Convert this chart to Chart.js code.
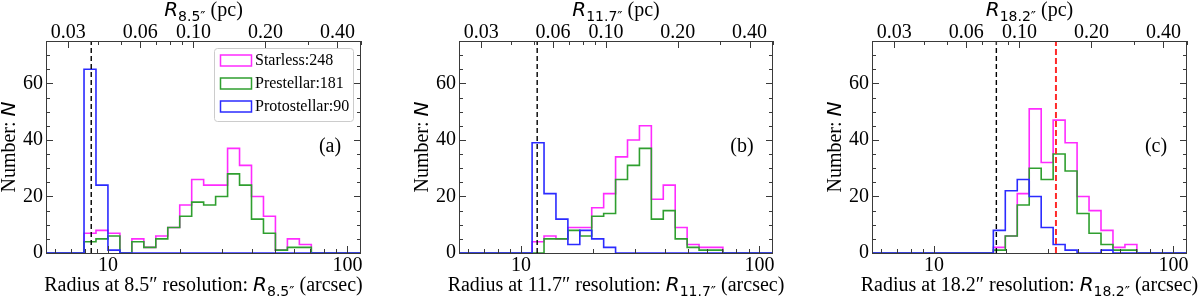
<!DOCTYPE html>
<html>
<head>
<meta charset="utf-8">
<script src="https://cdn.jsdelivr.net/npm/chart.js@4.4.0/dist/chart.umd.min.js"></script>
<style>
  html, body { margin: 0; padding: 0; background: #fff; }
  #wrap { position: relative; width: 1200px; height: 299px; overflow: hidden; }
  #wrap canvas { position: absolute; top: 0; }
</style>
</head>
<body>
<div id="wrap">
  <canvas id="pa" width="400" height="299" style="left:0"></canvas>
  <canvas id="pb" width="400" height="299" style="left:400px"></canvas>
  <canvas id="pc" width="400" height="299" style="left:800px"></canvas>
</div>
<script>
// ---- data ----
const SERIES = ['Starless', 'Prestellar', 'Protostellar'];
const SERIES_TOTALS = [248, 181, 90];

const RESOLUTIONS = ['8.5', '11.7', '18.2'];
const PANEL_TAGS = ['(a)', '(b)', '(c)'];
const RES_LINE = [8.5, 11.7, 18.2];     // black dashed line (arcsec)
const RED_LINE = [null, null, 32.3];    // red dashed line, panel (c) only

// first bin edge of each panel (arcsec); bins are 0.05 dex wide
const FIRST_EDGE = [7.93, 11.14, 17.68];
const BIN_DEX = 0.05;

const STARLESS_A = [7, 8, 7, 0, 5, 2, 6, 9, 17, 26, 24, 24, 37, 31, 20, 13, 1, 5, 3];
const PRESTELLAR_A = [4, 5, 6, 0, 4, 2, 5, 9, 13, 18, 17, 20, 28, 24, 12, 7, 1, 2, 2];
const PROTO_A = [65, 24, 1];

const STARLESS_B = [4, 6, 5, 9, 9, 16, 21, 34, 40, 45, 19, 24, 9, 3, 2, 2];
const PRESTELLAR_B = [0, 5, 5, 8, 6, 13, 14, 26, 31, 37, 12, 15, 5, 2, 1, 1];
const PROTO_B = [39, 21, 12, 3, 8, 5, 2];

const STARLESS_C = [2, 6, 21, 51, 32, 47, 39, 20, 15, 8, 2, 3];
const PRESTELLAR_C = [1, 6, 17, 30, 26, 35, 29, 14, 7, 3, 1, 1];
const PROTO_C = [8, 22, 26, 20, 9, 3, 1, 0, 0, 1];

// axes
const X_MIN = 5.5, X_MAX = 114;
const Y_MAX = 75;
const PC_PER_ARCSEC = 0.0044;
const Y_TICKS = [0, 20, 40, 60];
const Y_MINOR = [5, 10, 15, 25, 30, 35, 45, 50, 55, 65, 70];
const X_TICKS = [10, 100];
const X_MINOR = [6, 7, 8, 9, 20, 30, 40, 50, 60, 70, 80, 90];
const PC_TICKS = [0.03, 0.06, 0.10, 0.20, 0.40];
const PC_MINOR = [0.04, 0.05, 0.07, 0.08, 0.09, 0.3, 0.5];

// ---- styling / layout ----
const COLORS = ['#ff2bff', '#2f9f2f', '#2b2bff'];
const SERIF = '"Liberation Serif", "Times New Roman", serif';
const SANS = '"DejaVu Sans", sans-serif';
const FRAME = '#3a3a3a';
const PLOT_TOP = 41, PLOT_BOTTOM = 253;
const LAYOUT = [
  { id: 'pa', plotLeft: 46, plotRight: 361 },
  { id: 'pb', plotLeft: 59, plotRight: 373 },
  { id: 'pc', plotLeft: 72, plotRight: 387 }
];

function stepData(counts, first) {
  const pts = [{ x: X_MIN, y: 0 }, { x: first, y: 0 }];
  counts.forEach(function (c, k) {
    pts.push({ x: first * Math.pow(10, BIN_DEX * k), y: c });
  });
  const end = first * Math.pow(10, BIN_DEX * counts.length);
  pts.push({ x: end, y: counts[counts.length - 1] });
  pts.push({ x: end, y: 0 });
  pts.push({ x: X_MAX, y: 0 });
  return pts;
}

function richText(ctx, parts, x, y) {
  let w = 0;
  parts.forEach(function (p) { ctx.font = p.font; p.w = ctx.measureText(p.t).width; w += p.w; });
  let cx = x - w / 2;
  parts.forEach(function (p) {
    ctx.font = p.font;
    ctx.fillText(p.t, cx, y + (p.dy || 0));
    cx += p.w;
  });
}

const framePlugin = {
  id: 'frame',
  afterDatasetsDraw: function (chart, args, opts) {
    const ctx = chart.ctx;
    const a = chart.chartArea;
    const sx = chart.scales.x, sx2 = chart.scales.x2, sy = chart.scales.y;
    const res = opts.res;
    ctx.save();
    ctx.strokeStyle = FRAME;
    ctx.lineWidth = 1;

    function vt(px, len) {
      const x = Math.round(px) + 0.5;
      ctx.beginPath();
      ctx.moveTo(x, a.bottom); ctx.lineTo(x, a.bottom - len);
      ctx.stroke();
    }
    function vtTop(px, len) {
      const x = Math.round(px) + 0.5;
      ctx.beginPath();
      ctx.moveTo(x, a.top); ctx.lineTo(x, a.top + len);
      ctx.stroke();
    }
    function ht(py, len) {
      const y = Math.round(py) + 0.5;
      ctx.beginPath();
      ctx.moveTo(a.left, y); ctx.lineTo(a.left + len, y);
      ctx.moveTo(a.right, y); ctx.lineTo(a.right - len, y);
      ctx.stroke();
    }
    X_TICKS.forEach(function (v) { vt(sx.getPixelForValue(v), 7); });
    X_MINOR.forEach(function (v) { vt(sx.getPixelForValue(v), 4); });
    PC_TICKS.forEach(function (v) { vtTop(sx2.getPixelForValue(v), 7); });
    PC_MINOR.forEach(function (v) { vtTop(sx2.getPixelForValue(v), 4); });
    Y_TICKS.forEach(function (v) { ht(sy.getPixelForValue(v), 7); });
    Y_MINOR.forEach(function (v) { ht(sy.getPixelForValue(v), 4); });

    ctx.strokeRect(a.left + 0.5, a.top + 0.5, a.right - a.left - 1, a.bottom - a.top);

    // texts
    ctx.fillStyle = '#000';
    ctx.textBaseline = 'alphabetic';
    const cx = (a.left + a.right) / 2;
    richText(ctx, [
      { t: 'R', font: 'italic 20px ' + SANS },
      { t: res + '″', font: '14px ' + SANS, dy: 5 },
      { t: ' (pc)', font: '20px ' + SERIF }
    ], cx, 16);
    richText(ctx, [
      { t: 'Radius at ' + res + '″ resolution: ', font: '20px ' + SERIF },
      { t: 'R', font: 'italic 20px ' + SANS },
      { t: res + '″', font: '14px ' + SANS, dy: 5 },
      { t: ' (arcsec)', font: '20px ' + SERIF }
    ], cx, 291);

    ctx.save();
    ctx.translate(a.left - 31, (a.top + a.bottom) / 2);
    ctx.rotate(-Math.PI / 2);
    richText(ctx, [
      { t: 'Number: ', font: '20px ' + SERIF },
      { t: 'N', font: 'italic 20px ' + SANS }
    ], 0, 0);
    ctx.restore();

    ctx.font = '20px ' + SERIF;
    ctx.textAlign = 'center';
    ctx.textBaseline = 'middle';
    ctx.fillText(opts.tag, a.right - 31, 147);

    if (opts.legend) {
      const bx = a.right - 147, by = a.top + 7, bw = 139, bh = 73;
      ctx.fillStyle = 'rgba(255,255,255,0.85)';
      ctx.strokeStyle = '#cccccc';
      ctx.beginPath();
      ctx.roundRect(bx + 0.5, by + 0.5, bw, bh, 3);
      ctx.fill(); ctx.stroke();
      ctx.font = '16px ' + SERIF;
      ctx.textAlign = 'left';
      SERIES.forEach(function (name, i) {
        const ry = by + 12 + i * 23;
        ctx.strokeStyle = COLORS[i];
        ctx.lineWidth = 1.5;
        ctx.strokeRect(bx + 6.5, ry - 5, 31, 11);
        ctx.fillStyle = '#000';
        ctx.fillText(name + ':' + SERIES_TOTALS[i], bx + 41, ry + 1);
      });
    }
    ctx.restore();
  }
};

const HIST = [
  [STARLESS_A, PRESTELLAR_A, PROTO_A],
  [STARLESS_B, PRESTELLAR_B, PROTO_B],
  [STARLESS_C, PRESTELLAR_C, PROTO_C]
];

LAYOUT.forEach(function (L, p) {
  const canvas = document.getElementById(L.id);
  const datasets = [];
  HIST[p].forEach(function (counts, i) {
    datasets.push({
      label: SERIES[i],
      data: stepData(counts, FIRST_EDGE[p]),
      borderColor: COLORS[i],
      borderWidth: 1.6,
      stepped: true,
      pointRadius: 0,
      fill: false,
      order: 2 - i + 1
    });
  });
  datasets.push({
    label: 'res',
    data: [{ x: RES_LINE[p], y: 0 }, { x: RES_LINE[p], y: Y_MAX }],
    borderColor: '#000',
    borderWidth: 1.4,
    borderDash: [5, 3],
    pointRadius: 0,
    fill: false,
    order: 0
  });
  if (RED_LINE[p] !== null) {
    datasets.push({
      label: 'mean',
      data: [{ x: RED_LINE[p], y: 0 }, { x: RED_LINE[p], y: Y_MAX }],
      borderColor: '#ff2a2a',
      borderWidth: 2,
      borderDash: [6, 3],
      pointRadius: 0,
      fill: false,
      order: 0
    });
  }

  const tickFont = { family: SERIF, size: 20 };
  new Chart(canvas.getContext('2d'), {
    type: 'line',
    data: { datasets: datasets },
    options: {
      responsive: false,
      animation: false,
      events: [],
      layout: { padding: { left: 0, top: 0, bottom: 0, right: canvas.width - L.plotRight } },
      plugins: {
        legend: { display: false },
        tooltip: { enabled: false },
        frame: { res: RESOLUTIONS[p], tag: PANEL_TAGS[p], legend: p === 0 }
      },
      scales: {
        x: {
          type: 'logarithmic', position: 'bottom', min: X_MIN, max: X_MAX,
          afterBuildTicks: function (s) { s.ticks = X_TICKS.map(function (v) { return { value: v }; }); },
          afterFit: function (s) { s.height = canvas.height - PLOT_BOTTOM; },
          ticks: { font: tickFont, color: '#000', padding: 1, maxRotation: 0, autoSkip: false,
                   callback: function (v) { return String(v); } },
          grid: { display: false, drawTicks: false },
          border: { display: false }
        },
        x2: {
          type: 'logarithmic', position: 'top',
          min: X_MIN * PC_PER_ARCSEC, max: X_MAX * PC_PER_ARCSEC,
          afterBuildTicks: function (s) { s.ticks = PC_TICKS.map(function (v) { return { value: v }; }); },
          afterFit: function (s) { s.height = PLOT_TOP; },
          ticks: { font: tickFont, color: '#000', padding: -4, maxRotation: 0, autoSkip: false,
                   callback: function (v) { return v.toFixed(2); } },
          grid: { display: false, drawTicks: false },
          border: { display: false }
        },
        y: {
          type: 'linear', position: 'left', min: 0, max: Y_MAX,
          afterBuildTicks: function (s) { s.ticks = Y_TICKS.map(function (v) { return { value: v }; }); },
          afterFit: function (s) { s.width = L.plotLeft; },
          ticks: { font: tickFont, color: '#000', padding: 3 },
          grid: { display: false, drawTicks: false },
          border: { display: false }
        }
      }
    },
    plugins: [framePlugin]
  });
});
</script>
</body>
</html>
